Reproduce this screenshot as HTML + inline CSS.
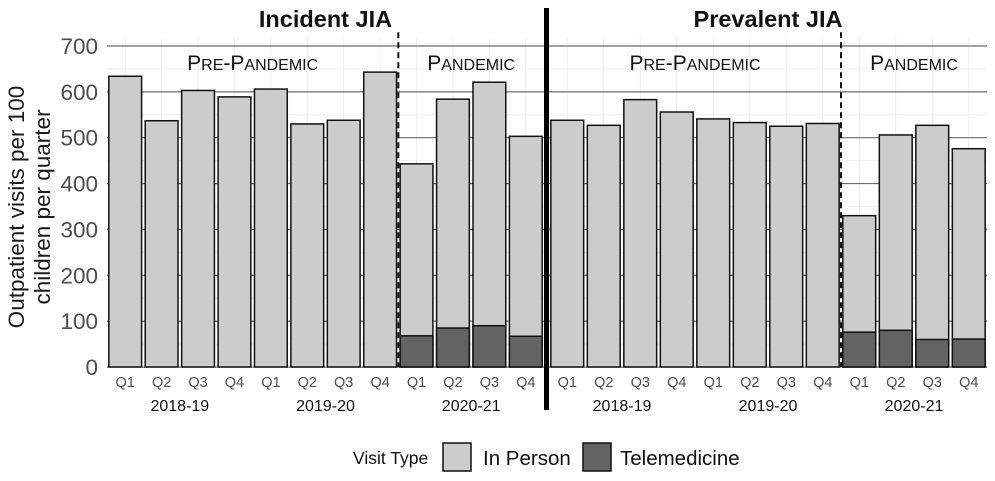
<!DOCTYPE html>
<html><head><meta charset="utf-8"><style>
body{margin:0;background:#fff;}
svg{display:block;font-family:"Liberation Sans",sans-serif;}
</style></head><body>
<svg id="c" width="995" height="481"></svg>
<script>
const quarters=["Q1","Q2","Q3","Q4","Q1","Q2","Q3","Q4","Q1","Q2","Q3","Q4"];
const years=["2018-19","2019-20","2020-21"];
const incidentTotal=[634,537,603,589,606,530,538,643,443,584,621,503];
const incidentTele=[0,0,0,0,0,0,0,0,68,85,90,67];
const prevalentTotal=[538,527,583,556,541,533,525,531,330,506,527,476];
const prevalentTele=[0,0,0,0,0,0,0,0,76,80,60,61];
const yTicks=[0,100,200,300,400,500,600,700];
const panels=[{title:"Incident JIA",tot:incidentTotal,tel:incidentTele,x0:107,x1:544},
{title:"Prevalent JIA",tot:prevalentTotal,tel:prevalentTele,x0:549,x1:987}];
const svg=document.getElementById('c');const NS="http://www.w3.org/2000/svg";
function el(t,a,p){const e=document.createElementNS(NS,t);for(const k in a)e.setAttribute(k,a[k]);(p||svg).appendChild(e);return e;}
const y=v=>367-v*0.4586;
yTicks.forEach(v=>{const t=el('text',{x:98,y:y(v)+8,'text-anchor':'end','font-size':22.5,fill:'#4d4d4d'});
t.textContent=v;});
const yt=el('text',{transform:'translate(24,207) rotate(-90)','text-anchor':'middle','font-size':22.5,fill:'#1a1a1a'});

yt.innerHTML='<tspan x="0" dy="0">Outpatient visits per 100</tspan><tspan x="0" dy="26">children per quarter</tspan>';
panels.forEach((p,pi)=>{
 const g=el('g',{});
 const bw=(p.x1-p.x0)/12;const xc=i=>p.x0+bw*(i+0.5);
 for(let v=50;v<=650;v+=100)el('line',{x1:p.x0,x2:p.x1,y1:y(v),y2:y(v),stroke:'#ebebeb','stroke-width':0.8},g);
 for(let i=0;i<12;i++)el('line',{x1:xc(i),x2:xc(i),y1:y(720),y2:y(0),stroke:'#ebebeb','stroke-width':0.8},g);
 yTicks.forEach(v=>el('line',{x1:p.x0,x2:p.x1,y1:y(v),y2:y(v),stroke:'#6b6b6b','stroke-width':1.2},g));
 const dx=p.x0+bw*8;
 p.tot.forEach((v,i)=>{
  const r=el('rect',{x:xc(i)-bw*0.45,y:y(v),width:bw*0.9,height:y(0)-y(v),fill:'#cccccc',stroke:'#111','stroke-width':1.5},g);
  
  if(p.tel[i]>0){const t=el('rect',{x:xc(i)-bw*0.45,y:y(p.tel[i]),width:bw*0.9,height:y(0)-y(p.tel[i]),fill:'#636363',stroke:'#111','stroke-width':1.5},g);
  }
  const q=el('text',{x:xc(i),y:387,'text-anchor':'middle','font-size':14.5,fill:'#4d4d4d'},g);
  q.textContent=quarters[i];
 });
 el('line',{x1:dx,x2:dx,y1:y(730),y2:y(0),stroke:'#111','stroke-width':2,'stroke-dasharray':'6,4'},g);
 years.forEach((yr,k)=>{const t=el('text',{x:xc(k*4)+bw*1.5,y:411,'text-anchor':'middle','font-size':16,fill:'#111'},g);
  t.textContent=yr;});
 const tt=el('text',{x:(p.x0+p.x1)/2,y:27,'text-anchor':'middle','font-size':23.5,'font-weight':'bold',fill:'#111'},g);
 tt.textContent=p.title;
 const a=el('text',{x:(p.x0+dx)/2,y:70,'text-anchor':'middle',fill:'#111','font-size':21},g);
 
 a.innerHTML='P<tspan font-size="16">RE</tspan>-P<tspan font-size="16">ANDEMIC</tspan>';
 const b=el('text',{x:(dx+p.x1)/2,y:70,'text-anchor':'middle',fill:'#111','font-size':21},g);
 
 b.innerHTML='P<tspan font-size="16">ANDEMIC</tspan>';
});
const sep=el('line',{x1:546.5,x2:546.5,y1:8,y2:410,stroke:'#000','stroke-width':5});

const lg=el('g',{});
const lt=el('text',{x:353,y:464,'font-size':17.5,fill:'#111'},lg);lt.textContent='Visit Type';
const r1=el('rect',{x:443,y:443,width:28,height:28,fill:'#cccccc',stroke:'#111','stroke-width':1.5},lg);

el('text',{x:483,y:465,'font-size':20.5,fill:'#111'},lg).textContent='In Person';
const r2=el('rect',{x:583,y:443,width:28,height:28,fill:'#636363',stroke:'#111','stroke-width':1.5},lg);

el('text',{x:620,y:465,'font-size':20.5,fill:'#111'},lg).textContent='Telemedicine';
</script>
</body></html>
